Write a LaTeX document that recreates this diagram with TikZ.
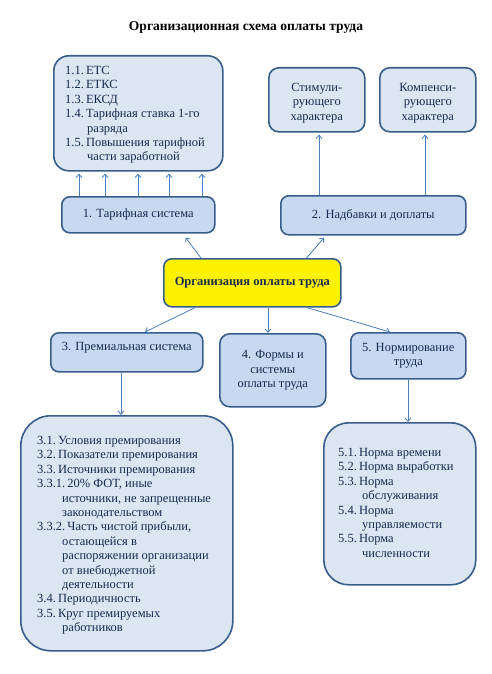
\documentclass[tikz,border=0pt]{standalone}
\usepackage{fontspec}
\setmainfont{Liberation Serif}
\usetikzlibrary{arrows.meta}
\definecolor{bord}{RGB}{56,93,138}
\definecolor{lfill}{RGB}{220,230,242}
\definecolor{dfill}{RGB}{198,217,241}
\definecolor{txt}{RGB}{23,43,80}
\definecolor{arr}{RGB}{74,126,187}
\begin{document}
\begin{tikzpicture}[x=1pt,y=-1pt,
  box/.style={draw=bord, line width=1.6pt, rounded corners=#1, inner sep=0pt,
    anchor=north west, text=txt, align=center,
    font=\fontsize{12.5}{14.4}\selectfont},
  listtext/.style={inner sep=0pt, anchor=north west, text=txt, align=left,
    font=\fontsize{12.5}{14.4}\selectfont},
  conn/.style={draw=arr, line width=0.8pt, -{Straight Barb[length=3.5pt,width=6pt]}}]
\useasboundingbox (0,0) rectangle (491,674);
\fill[white] (0,0) rectangle (491,674);
\node[font=\bfseries\fontsize{13.5}{15}\selectfont, anchor=base] (title) at (246,31) {Организационная схема оплаты труда};

% top-left list
\node[box=15pt, fill=lfill, minimum width=169pt, minimum height=115pt] (A) at (53,55) {};
\node[listtext] (tA) at (65,66) {1.1.\,ЕТС\\1.2.\,ЕТКС\\1.3.\,ЕКСД\\1.4.\,Тарифная ставка 1-го\\\hspace*{22pt}разряда\\1.5.\,Повышения тарифной\\\hspace*{22pt}части заработной};

\node[box=8pt, fill=dfill, minimum width=153pt, minimum height=36pt] (b1) at (61,196) {1. Тарифная система};

\node[box=10pt, fill=lfill, minimum width=96pt, minimum height=64pt] (st) at (268,67) {\rule{0pt}{15pt}Стимули-\\рующего\\характера};
\node[box=10pt, fill=lfill, minimum width=96pt, minimum height=64pt] (ko) at (379,67) {\rule{0pt}{15pt}Компенси-\\рующего\\характера};

\node[box=8pt, fill=dfill, minimum width=185pt, minimum height=39pt] (b2) at (280,195) {2. Надбавки и доплаты};

\node[box=8pt, fill=yellow, minimum width=177pt, minimum height=48pt, font=\bfseries\fontsize{12.5}{14.4}\selectfont] (c) at (163,258) {Организация оплаты труда};

\node[box=8pt, fill=dfill, minimum width=152pt, minimum height=39pt, text depth=11pt] (b3) at (50,332) {3. Премиальная система};
\node[box=10pt, fill=dfill, minimum width=106pt, minimum height=73pt] (b4) at (219,333) {4. Формы и\\системы\\оплаты труда};
\node[box=8pt, fill=dfill, minimum width=115pt, minimum height=46pt] (b5) at (350,332) {5. Нормирование\\труда};

\node[box=30pt, fill=lfill, minimum width=212pt, minimum height=235pt] (L3) at (20,415) {};
\node[listtext] (t3) at (37,436) {3.1.\,Условия премирования\\3.2.\,Показатели премирования\\3.3.\,Источники премирования\\3.3.1.\,20\% ФОТ, иные\\\hspace*{25pt}источники, не запрещенные\\\hspace*{25pt}законодательством\\3.3.2.\,Часть чистой прибыли,\\\hspace*{25pt}остающейся в\\\hspace*{25pt}распоряжении организации\\\hspace*{25pt}от внебюджетной\\\hspace*{25pt}деятельности\\3.4.\,Периодичность\\3.5.\,Круг премируемых\\\hspace*{25pt}работников};

\node[box=25pt, fill=lfill, minimum width=152pt, minimum height=162pt] (L5) at (323,422) {};
\node[listtext] (t5) at (338,448) {5.1.\,Норма времени\\5.2.\,Норма выработки\\5.3.\,Норма\\\hspace*{24pt}обслуживания\\5.4.\,Норма\\\hspace*{24pt}управляемости\\5.5.\,Норма\\\hspace*{24pt}численности};

% connectors
\foreach \xx in {79,105,138,169,202}
  \draw[conn] (\xx,0 |- b1.north) -- ([yshift=-2pt]\xx,0 |- A.south);
\draw[conn] (319,0 |- b2.north) -- ([yshift=-2pt]319,0 |- st.south);
\draw[conn] (425,0 |- b2.north) -- ([yshift=-2pt]425,0 |- ko.south);
\draw[conn] ([xshift=38pt]c.north west) -- ([xshift=-30pt,yshift=-4pt]b1.south east);
\draw[conn] ([xshift=-35pt]c.north east) -- ([xshift=44pt,yshift=-2pt]b2.south west);
\draw[conn] ([xshift=32pt]c.south west) -- ([xshift=95pt]b3.north west);
\draw[conn] ([xshift=105pt]c.south west) -- ([xshift=49pt]b4.north west);
\draw[conn] ([xshift=144pt]c.south west) -- ([xshift=40pt]b5.north west);
\draw[conn] (121,0 |- b3.south) -- (121,0 |- L3.north);
\draw[conn] (408,0 |- b5.south) -- (408,0 |- L5.north);
\end{tikzpicture}
\end{document}
